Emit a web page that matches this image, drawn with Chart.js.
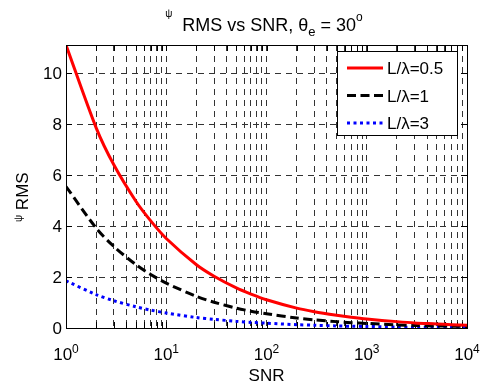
<!DOCTYPE html>
<html>
<head>
<meta charset="utf-8">
<script src="https://cdn.jsdelivr.net/npm/chart.js@4.4.0/dist/chart.umd.min.js"></script>
<style>
    html, body { margin: 0; padding: 0; background: #fff; }
    #wrap { position: relative; width: 486px; height: 387px; }
</style>
</head>
<body>
<div id="wrap"><canvas id="rmsChart"></canvas></div>
<script>
// SNR samples and psi RMS values
const snr = [1, 2, 3, 5, 7, 10, 20, 30, 50, 70, 100, 200, 300, 500, 700, 1000, 2000, 3000, 5000, 7000, 10000];
const rmsHalf = [11.1, 7.85, 6.4, 4.96, 4.2, 3.51, 2.48, 2.03, 1.57, 1.33, 1.11, 0.78, 0.64, 0.50, 0.42, 0.35, 0.25, 0.20, 0.16, 0.13, 0.11];
const rmsOne = [5.55, 3.92, 3.2, 2.48, 2.1, 1.76, 1.24, 1.01, 0.78, 0.66, 0.56, 0.39, 0.32, 0.25, 0.21, 0.18, 0.12, 0.10, 0.08, 0.07, 0.06];
const rmsThree = [1.85, 1.31, 1.07, 0.83, 0.70, 0.59, 0.41, 0.34, 0.26, 0.22, 0.19, 0.13, 0.11, 0.08, 0.07, 0.06, 0.04, 0.03, 0.03, 0.02, 0.02];

const seriesLabels = ['L/λ=0.5', 'L/λ=1', 'L/λ=3'];
const xTickExponents = [0, 1, 2, 3, 4];
const yTickValues = [0, 2, 4, 6, 8, 10];

const FONT = '"Liberation Sans", Arial, Helvetica, sans-serif';

function toPoints(values) {
    return snr.map(function(s, i) { return { x: s, y: values[i] }; });
}

// Draw a string made of pieces with different sizes / offsets (super- and subscripts)
function drawRich(ctx, parts, x, y, align) {
    let total = 0;
    parts.forEach(function(p) {
        ctx.font = p[1] + 'px ' + FONT;
        total += ctx.measureText(p[0]).width;
    });
    let cx = align === 'center' ? x - total / 2 : x;
    ctx.textAlign = 'left';
    ctx.textBaseline = 'alphabetic';
    parts.forEach(function(p) {
        ctx.font = p[1] + 'px ' + FONT;
        ctx.fillText(p[0], cx, y + p[2]);
        cx += ctx.measureText(p[0]).width;
    });
}

// Minor + major positions for the log axis (1..9 per decade)
function logTickValues() {
    const vals = [];
    for (let e = 0; e < xTickExponents.length - 1; e++) {
        for (let m = 1; m < 10; m++) vals.push(m * Math.pow(10, xTickExponents[e]));
    }
    vals.push(Math.pow(10, xTickExponents[xTickExponents.length - 1]));
    return vals;
}

const matlabDecor = {
    id: 'matlabDecor',
    beforeDatasetsDraw: function(chart) {
        const ctx = chart.ctx;
        const area = chart.chartArea;
        const xs = chart.scales.x;
        const ys = chart.scales.y;
        ctx.save();
        ctx.strokeStyle = '#000';
        ctx.lineWidth = 1;
        ctx.setLineDash([]);
        ctx.beginPath();
        logTickValues().forEach(function(v) {
            const px = Math.round(xs.getPixelForValue(v)) + 0.5;
            ctx.moveTo(px, area.bottom);
            ctx.lineTo(px, area.bottom - 6);
            ctx.moveTo(px, area.top);
            ctx.lineTo(px, area.top + 6);
        });
        yTickValues.forEach(function(v) {
            const py = Math.round(ys.getPixelForValue(v)) + 0.5;
            ctx.moveTo(area.left, py);
            ctx.lineTo(area.left + 6, py);
            ctx.moveTo(area.right, py);
            ctx.lineTo(area.right - 6, py);
        });
        ctx.stroke();
        ctx.restore();
    },
    afterDraw: function(chart) {
        const ctx = chart.ctx;
        const area = chart.chartArea;
        const xs = chart.scales.x;
        const ys = chart.scales.y;
        ctx.save();

        // axes box
        ctx.strokeStyle = '#000';
        ctx.lineWidth = 1;
        ctx.setLineDash([]);
        ctx.strokeRect(Math.round(area.left) + 0.5, Math.round(area.top) + 0.5,
            Math.round(area.right - area.left), Math.round(area.bottom - area.top));

        ctx.fillStyle = '#000';

        // y tick labels
        ctx.font = '17px ' + FONT;
        ctx.textAlign = 'right';
        ctx.textBaseline = 'alphabetic';
        yTickValues.forEach(function(v) {
            ctx.fillText(String(v), area.left - 4, ys.getPixelForValue(v) + 6);
        });

        // x tick labels 10^n
        xTickExponents.forEach(function(e) {
            const px = xs.getPixelForValue(Math.pow(10, e));
            drawRich(ctx, [['10', 17, 0], [String(e), 12, -7]], px, 360, 'center');
        });

        // axis titles
        drawRich(ctx, [['SNR', 17, 0]], (area.left + area.right) / 2, 381, 'center');
        ctx.save();
        ctx.translate(28, 222);
        ctx.rotate(-Math.PI / 2);
        drawRich(ctx, [['ψ', 10, -6], [' RMS', 17, 0]], 0, 0, 'left');
        ctx.restore();

        // title
        drawRich(ctx, [['ψ', 10, -14], ['  RMS vs SNR, θ', 18, 0], ['e', 13, 5], [' = 30', 18, 0], ['o', 12, -10]],
            264, 31, 'center');

        // legend box
        const lx = 337.5, ly = 51.5, lw = 120, lh = 84;
        ctx.fillStyle = '#fff';
        ctx.fillRect(lx, ly, lw, lh);
        ctx.strokeStyle = '#000';
        ctx.lineWidth = 1;
        ctx.strokeRect(lx, ly, lw, lh);
        chart.data.datasets.forEach(function(ds, i) {
            const rowY = 68 + i * 27.5;
            ctx.strokeStyle = ds.borderColor;
            ctx.lineWidth = ds.borderWidth;
            ctx.setLineDash(ds.borderDash || []);
            ctx.lineCap = 'butt';
            ctx.beginPath();
            ctx.moveTo(347, rowY);
            ctx.lineTo(383, rowY);
            ctx.stroke();
            ctx.setLineDash([]);
            ctx.fillStyle = '#000';
            ctx.font = '17px ' + FONT;
            ctx.textAlign = 'left';
            ctx.fillText(ds.label, 387, rowY + 6);
        });

        ctx.restore();
    }
};

const ctx = document.getElementById('rmsChart').getContext('2d');

const rmsChart = new Chart(ctx, {
    type: 'line',
    data: {
        datasets: [{
            label: seriesLabels[0],
            data: toPoints(rmsHalf),
            borderColor: '#ff0000',
            borderWidth: 3,
            pointRadius: 0,
            tension: 0.3,
            fill: false
        }, {
            label: seriesLabels[1],
            data: toPoints(rmsOne),
            borderColor: '#000000',
            borderWidth: 3,
            borderDash: [9, 4.5],
            pointRadius: 0,
            tension: 0.3,
            fill: false
        }, {
            label: seriesLabels[2],
            data: toPoints(rmsThree),
            borderColor: '#0000ff',
            borderWidth: 3,
            borderDash: [3, 3.5],
            pointRadius: 0,
            tension: 0.3,
            fill: false
        }]
    },
    options: {
        responsive: true,
        maintainAspectRatio: false,
        animation: false,
        layout: {
            padding: { top: 45, right: 19, left: 0, bottom: 0 }
        },
        plugins: {
            legend: { display: false },
            title: { display: false },
            tooltip: { enabled: false }
        },
        scales: {
            x: {
                type: 'logarithmic',
                min: 1,
                max: 10000,
                afterBuildTicks: function(scale) {
                    scale.ticks = logTickValues().map(function(v) { return { value: v }; });
                },
                afterFit: function(scale) { scale.height = 59; },
                ticks: { display: false },
                grid: { color: '#333', lineWidth: 1, drawTicks: false },
                border: { display: false, dash: [6, 5] }
            },
            y: {
                min: 0,
                max: 11.1,
                afterBuildTicks: function(scale) {
                    scale.ticks = yTickValues.map(function(v) { return { value: v }; });
                },
                afterFit: function(scale) { scale.width = 66; },
                ticks: { display: false },
                grid: { color: '#333', lineWidth: 1, drawTicks: false },
                border: { display: false, dash: [6, 5] }
            }
        }
    },
    plugins: [matlabDecor]
});
</script>
</body>
</html>
